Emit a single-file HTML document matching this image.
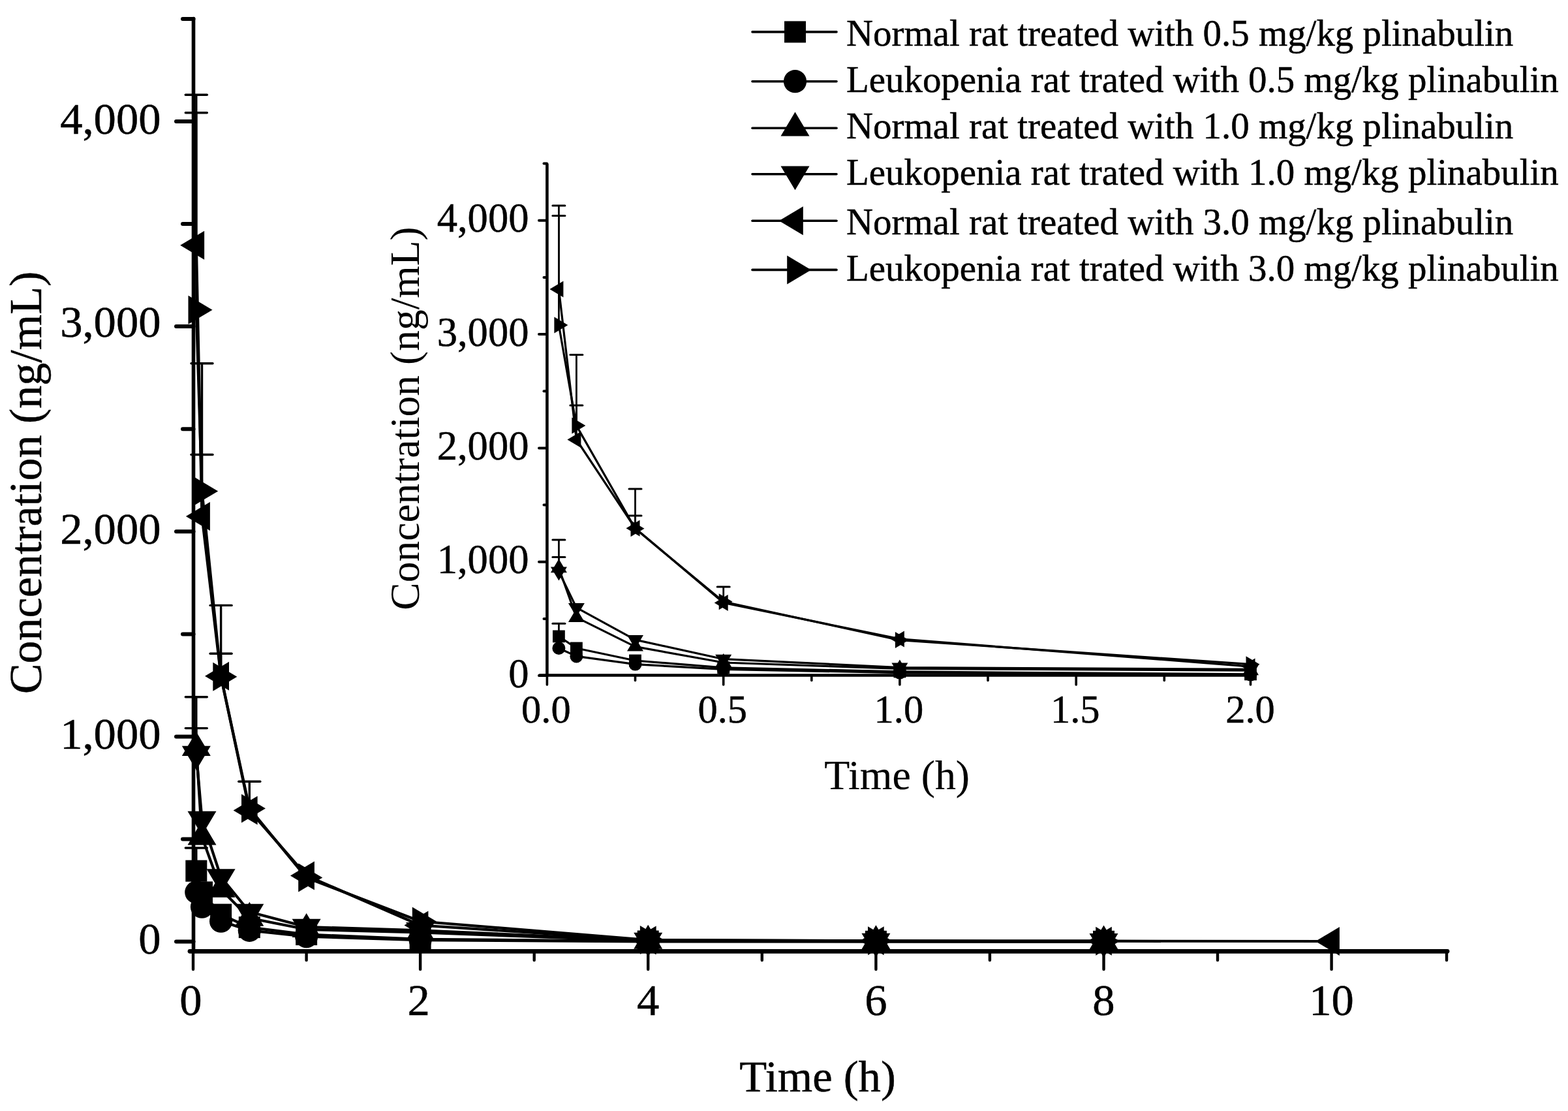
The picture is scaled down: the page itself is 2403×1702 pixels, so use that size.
<!DOCTYPE html><html><head><meta charset="utf-8"><title>Plinabulin concentration</title><style>html,body{margin:0;padding:0;background:#fff;}svg{display:block;}text{font-family:"Liberation Serif", "Times New Roman", serif;fill:#000;stroke:#000;stroke-width:0.5px;}</style></head><body>
<svg width="2403" height="1702" viewBox="0 0 2403 1702">
<rect width="2403" height="1702" fill="#fff"/>
<g id="main">
<polyline points="300.8,1334.2 309.5,1366.9 338.6,1401.1 382.3,1420.6 469.6,1431.6 644.1,1438.8 993.2,1442.0 1342.4,1442.3 1691.5,1442.3" fill="none" stroke="#000" stroke-width="4.2" stroke-linejoin="round"/>
<polyline points="300.8,1366.9 309.5,1389.2 338.6,1411.2 382.3,1425.3 469.6,1434.7 644.1,1440.1 993.2,1442.3 1342.4,1442.3 1691.5,1442.3" fill="none" stroke="#000" stroke-width="4.2" stroke-linejoin="round"/>
<polyline points="300.8,1145.7 309.5,1282.1 338.6,1362.5 382.3,1406.5 469.6,1423.8 644.1,1428.5 993.2,1441.3 1342.4,1442.0 1691.5,1442.3" fill="none" stroke="#000" stroke-width="4.2" stroke-linejoin="round"/>
<polyline points="300.8,1155.2 309.5,1255.1 338.6,1343.6 382.3,1397.0 469.6,1420.0 644.1,1425.3 993.2,1441.0 1342.4,1442.0 1691.5,1442.3" fill="none" stroke="#000" stroke-width="4.2" stroke-linejoin="round"/>
<polyline points="300.8,375.7 309.5,791.1 338.6,1035.8 382.3,1241.5 469.6,1341.4 644.1,1417.5 993.2,1440.4 1342.4,1441.3 1691.5,1441.7 2040.6,1442.0" fill="none" stroke="#000" stroke-width="4.2" stroke-linejoin="round"/>
<polyline points="300.8,474.7 309.5,752.4 338.6,1036.7 382.3,1238.4 469.6,1344.6 644.1,1411.5 993.2,1440.1 1342.4,1441.3 1691.5,1441.7" fill="none" stroke="#000" stroke-width="4.2" stroke-linejoin="round"/>
<line x1="300.8" y1="375.7" x2="300.8" y2="145.2" stroke="#000" stroke-width="3.4"/>
<line x1="284.3" y1="145.2" x2="317.3" y2="145.2" stroke="#000" stroke-width="3.4" stroke-linecap="round"/>
<line x1="300.8" y1="474.7" x2="300.8" y2="172.8" stroke="#000" stroke-width="3.4"/>
<line x1="284.3" y1="172.8" x2="317.3" y2="172.8" stroke="#000" stroke-width="3.4" stroke-linecap="round"/>
<line x1="300.8" y1="1145.7" x2="300.8" y2="1067.8" stroke="#000" stroke-width="3.4"/>
<line x1="284.3" y1="1067.8" x2="317.3" y2="1067.8" stroke="#000" stroke-width="3.4" stroke-linecap="round"/>
<line x1="300.8" y1="1155.2" x2="300.8" y2="1115.6" stroke="#000" stroke-width="3.4"/>
<line x1="284.3" y1="1115.6" x2="317.3" y2="1115.6" stroke="#000" stroke-width="3.4" stroke-linecap="round"/>
<line x1="300.8" y1="1334.2" x2="300.8" y2="1299.0" stroke="#000" stroke-width="3.4"/>
<line x1="284.3" y1="1299.0" x2="317.3" y2="1299.0" stroke="#000" stroke-width="3.4" stroke-linecap="round"/>
<line x1="309.5" y1="752.4" x2="309.5" y2="556.7" stroke="#000" stroke-width="3.4"/>
<line x1="293.0" y1="556.7" x2="326.0" y2="556.7" stroke="#000" stroke-width="3.4" stroke-linecap="round"/>
<line x1="309.5" y1="791.1" x2="309.5" y2="696.5" stroke="#000" stroke-width="3.4"/>
<line x1="293.0" y1="696.5" x2="326.0" y2="696.5" stroke="#000" stroke-width="3.4" stroke-linecap="round"/>
<line x1="338.6" y1="1036.7" x2="338.6" y2="927.4" stroke="#000" stroke-width="3.4"/>
<line x1="322.1" y1="927.4" x2="355.1" y2="927.4" stroke="#000" stroke-width="3.4" stroke-linecap="round"/>
<line x1="338.6" y1="1035.8" x2="338.6" y2="1001.2" stroke="#000" stroke-width="3.4"/>
<line x1="322.1" y1="1001.2" x2="355.1" y2="1001.2" stroke="#000" stroke-width="3.4" stroke-linecap="round"/>
<line x1="382.3" y1="1238.4" x2="382.3" y2="1197.2" stroke="#000" stroke-width="3.4"/>
<line x1="365.8" y1="1197.2" x2="398.8" y2="1197.2" stroke="#000" stroke-width="3.4" stroke-linecap="round"/>
<g fill="#000">
<rect x="284.3" y="1317.7" width="33.0" height="33.0"/>
<rect x="293.0" y="1350.4" width="33.0" height="33.0"/>
<rect x="322.1" y="1384.6" width="33.0" height="33.0"/>
<rect x="365.8" y="1404.1" width="33.0" height="33.0"/>
<rect x="453.1" y="1415.1" width="33.0" height="33.0"/>
<rect x="627.6" y="1422.3" width="33.0" height="33.0"/>
<rect x="976.7" y="1425.5" width="33.0" height="33.0"/>
<rect x="1325.9" y="1425.8" width="33.0" height="33.0"/>
<rect x="1675.0" y="1425.8" width="33.0" height="33.0"/>
<circle cx="300.8" cy="1366.9" r="17.6"/>
<circle cx="309.5" cy="1389.2" r="17.6"/>
<circle cx="338.6" cy="1411.2" r="17.6"/>
<circle cx="382.3" cy="1425.3" r="17.6"/>
<circle cx="469.6" cy="1434.7" r="17.6"/>
<circle cx="644.1" cy="1440.1" r="17.6"/>
<circle cx="993.2" cy="1442.3" r="17.6"/>
<circle cx="1342.4" cy="1442.3" r="17.6"/>
<circle cx="1691.5" cy="1442.3" r="17.6"/>
<polygon points="278.8,1158.0 322.8,1158.0 300.8,1121.1"/>
<polygon points="287.5,1294.4 331.5,1294.4 309.5,1257.4"/>
<polygon points="316.6,1374.8 360.6,1374.8 338.6,1337.9"/>
<polygon points="360.3,1418.8 404.3,1418.8 382.3,1381.8"/>
<polygon points="447.6,1436.1 491.6,1436.1 469.6,1399.1"/>
<polygon points="622.1,1440.8 666.1,1440.8 644.1,1403.8"/>
<polygon points="971.2,1453.7 1015.2,1453.7 993.2,1416.7"/>
<polygon points="1320.4,1454.3 1364.4,1454.3 1342.4,1417.3"/>
<polygon points="1669.5,1454.6 1713.5,1454.6 1691.5,1417.6"/>
<polygon points="278.8,1142.8 322.8,1142.8 300.8,1179.8"/>
<polygon points="287.5,1242.7 331.5,1242.7 309.5,1279.7"/>
<polygon points="316.6,1331.3 360.6,1331.3 338.6,1368.3"/>
<polygon points="360.3,1384.7 404.3,1384.7 382.3,1421.7"/>
<polygon points="447.6,1407.7 491.6,1407.7 469.6,1444.6"/>
<polygon points="622.1,1413.0 666.1,1413.0 644.1,1450.0"/>
<polygon points="971.2,1428.7 1015.2,1428.7 993.2,1465.7"/>
<polygon points="1320.4,1429.7 1364.4,1429.7 1342.4,1466.6"/>
<polygon points="1669.5,1430.0 1713.5,1430.0 1691.5,1466.9"/>
<polygon points="313.1,353.7 313.1,397.7 276.2,375.7"/>
<polygon points="321.9,769.1 321.9,813.1 284.9,791.1"/>
<polygon points="351.0,1013.8 351.0,1057.8 314.0,1035.8"/>
<polygon points="394.6,1219.5 394.6,1263.5 357.6,1241.5"/>
<polygon points="481.9,1319.4 481.9,1363.4 444.9,1341.4"/>
<polygon points="656.4,1395.5 656.4,1439.5 619.5,1417.5"/>
<polygon points="1005.6,1418.4 1005.6,1462.4 968.6,1440.4"/>
<polygon points="1354.7,1419.3 1354.7,1463.3 1317.7,1441.3"/>
<polygon points="1703.8,1419.7 1703.8,1463.7 1666.8,1441.7"/>
<polygon points="2052.9,1420.0 2052.9,1464.0 2016.0,1442.0"/>
<polygon points="288.5,452.7 288.5,496.7 325.5,474.7"/>
<polygon points="297.2,730.4 297.2,774.4 334.2,752.4"/>
<polygon points="326.3,1014.7 326.3,1058.7 363.3,1036.7"/>
<polygon points="370.0,1216.4 370.0,1260.4 406.9,1238.4"/>
<polygon points="457.2,1322.6 457.2,1366.6 494.2,1344.6"/>
<polygon points="631.8,1389.5 631.8,1433.5 668.8,1411.5"/>
<polygon points="980.9,1418.1 980.9,1462.1 1017.9,1440.1"/>
<polygon points="1330.0,1419.3 1330.0,1463.3 1367.0,1441.3"/>
<polygon points="1679.2,1419.7 1679.2,1463.7 1716.1,1441.7"/>
</g>
<g stroke="#000" stroke-linecap="round">
<line x1="296.5" y1="28.5" x2="296.5" y2="1457.3" stroke-width="5.6"/>
<line x1="291" y1="1457.3" x2="2218" y2="1457.3" stroke-width="6.8"/>
<line x1="270" y1="1442.6" x2="296.5" y2="1442.6" stroke-width="6"/>
<line x1="270" y1="1128.4" x2="296.5" y2="1128.4" stroke-width="6"/>
<line x1="270" y1="814.3" x2="296.5" y2="814.3" stroke-width="6"/>
<line x1="270" y1="500.1" x2="296.5" y2="500.1" stroke-width="6"/>
<line x1="270" y1="186.0" x2="296.5" y2="186.0" stroke-width="6"/>
<line x1="280" y1="1285.5" x2="296.5" y2="1285.5" stroke-width="6"/>
<line x1="280" y1="971.4" x2="296.5" y2="971.4" stroke-width="6"/>
<line x1="280" y1="657.2" x2="296.5" y2="657.2" stroke-width="6"/>
<line x1="280" y1="343.1" x2="296.5" y2="343.1" stroke-width="6"/>
<line x1="280" y1="28.9" x2="296.5" y2="28.9" stroke-width="6"/>
<line x1="296.0" y1="1457.3" x2="296.0" y2="1485" stroke-width="4.4"/>
<line x1="644.1" y1="1457.3" x2="644.1" y2="1485" stroke-width="4.4"/>
<line x1="993.2" y1="1457.3" x2="993.2" y2="1485" stroke-width="4.4"/>
<line x1="1342.4" y1="1457.3" x2="1342.4" y2="1485" stroke-width="4.4"/>
<line x1="1691.5" y1="1457.3" x2="1691.5" y2="1485" stroke-width="4.4"/>
<line x1="2040.6" y1="1457.3" x2="2040.6" y2="1485" stroke-width="4.4"/>
<line x1="469.6" y1="1457.3" x2="469.6" y2="1471" stroke-width="4.4"/>
<line x1="818.7" y1="1457.3" x2="818.7" y2="1471" stroke-width="4.4"/>
<line x1="1167.8" y1="1457.3" x2="1167.8" y2="1471" stroke-width="4.4"/>
<line x1="1516.9" y1="1457.3" x2="1516.9" y2="1471" stroke-width="4.4"/>
<line x1="1866.0" y1="1457.3" x2="1866.0" y2="1471" stroke-width="4.4"/>
<line x1="2217.0" y1="1457.3" x2="2217.0" y2="1471" stroke-width="4.4"/>
</g>
<text x="246.5" y="1461.4" font-size="68.6" text-anchor="end" >0</text>
<text x="246.5" y="1147.2" font-size="68.6" text-anchor="end" >1,000</text>
<text x="246.5" y="833.1" font-size="68.6" text-anchor="end" >2,000</text>
<text x="246.5" y="516.4" font-size="68.6" text-anchor="end" >3,000</text>
<text x="246.5" y="204.8" font-size="68.6" text-anchor="end" >4,000</text>
<text x="292.5" y="1555.0" font-size="68.6" text-anchor="middle" >0</text>
<text x="641.6" y="1555.0" font-size="68.6" text-anchor="middle" >2</text>
<text x="993.2" y="1555.0" font-size="68.6" text-anchor="middle" >4</text>
<text x="1342.4" y="1555.0" font-size="68.6" text-anchor="middle" >6</text>
<text x="1691.5" y="1555.0" font-size="68.6" text-anchor="middle" >8</text>
<text x="2040.6" y="1555.0" font-size="68.6" text-anchor="middle" >10</text>
<text x="1253.0" y="1671.6" font-size="68.6" text-anchor="middle" >Time (h)</text>
<text x="63" y="739.4" font-size="70" text-anchor="middle" transform="rotate(-90 63 739.4)">Concentration (ng/mL)</text>
</g>
<g id="inset">
<polyline points="856.4,974.9 883.4,993.0 973.5,1012.0 1108.7,1022.8 1378.9,1028.9 1916.5,1032.9" fill="none" stroke="#000" stroke-width="3.2" stroke-linejoin="round"/>
<polyline points="856.4,993.0 883.4,1005.4 973.5,1017.6 1108.7,1025.4 1378.9,1030.6 1916.5,1033.6" fill="none" stroke="#000" stroke-width="3.2" stroke-linejoin="round"/>
<polyline points="856.4,870.3 883.4,945.9 973.5,990.6 1108.7,1015.0 1378.9,1024.5 1916.5,1027.2" fill="none" stroke="#000" stroke-width="3.2" stroke-linejoin="round"/>
<polyline points="856.4,875.5 883.4,930.9 973.5,980.1 1108.7,1009.7 1378.9,1022.5 1916.5,1025.4" fill="none" stroke="#000" stroke-width="3.2" stroke-linejoin="round"/>
<polyline points="856.4,443.1 883.4,673.5 973.5,809.3 1108.7,923.4 1378.9,978.9 1916.5,1021.1" fill="none" stroke="#000" stroke-width="3.2" stroke-linejoin="round"/>
<polyline points="856.4,498.0 883.4,652.1 973.5,809.8 1108.7,921.7 1378.9,980.6 1916.5,1017.7" fill="none" stroke="#000" stroke-width="3.2" stroke-linejoin="round"/>
<line x1="856.4" y1="443.1" x2="856.4" y2="315.1" stroke="#000" stroke-width="2.8"/>
<line x1="846.9" y1="315.1" x2="865.9" y2="315.1" stroke="#000" stroke-width="3" stroke-linecap="round"/>
<line x1="856.4" y1="498.0" x2="856.4" y2="330.5" stroke="#000" stroke-width="2.8"/>
<line x1="846.9" y1="330.5" x2="865.9" y2="330.5" stroke="#000" stroke-width="3" stroke-linecap="round"/>
<line x1="856.4" y1="870.3" x2="856.4" y2="827.1" stroke="#000" stroke-width="2.8"/>
<line x1="846.9" y1="827.1" x2="865.9" y2="827.1" stroke="#000" stroke-width="3" stroke-linecap="round"/>
<line x1="856.4" y1="875.5" x2="856.4" y2="853.6" stroke="#000" stroke-width="2.8"/>
<line x1="846.9" y1="853.6" x2="865.9" y2="853.6" stroke="#000" stroke-width="3" stroke-linecap="round"/>
<line x1="856.4" y1="974.9" x2="856.4" y2="955.3" stroke="#000" stroke-width="2.8"/>
<line x1="846.9" y1="955.3" x2="865.9" y2="955.3" stroke="#000" stroke-width="3" stroke-linecap="round"/>
<line x1="883.4" y1="652.1" x2="883.4" y2="543.5" stroke="#000" stroke-width="2.8"/>
<line x1="873.9" y1="543.5" x2="892.9" y2="543.5" stroke="#000" stroke-width="3" stroke-linecap="round"/>
<line x1="883.4" y1="673.5" x2="883.4" y2="621.0" stroke="#000" stroke-width="2.8"/>
<line x1="873.9" y1="621.0" x2="892.9" y2="621.0" stroke="#000" stroke-width="3" stroke-linecap="round"/>
<line x1="973.5" y1="809.8" x2="973.5" y2="749.1" stroke="#000" stroke-width="2.8"/>
<line x1="964.0" y1="749.1" x2="983.0" y2="749.1" stroke="#000" stroke-width="3" stroke-linecap="round"/>
<line x1="973.5" y1="809.3" x2="973.5" y2="790.1" stroke="#000" stroke-width="2.8"/>
<line x1="964.0" y1="790.1" x2="983.0" y2="790.1" stroke="#000" stroke-width="3" stroke-linecap="round"/>
<line x1="1108.7" y1="921.7" x2="1108.7" y2="898.9" stroke="#000" stroke-width="2.8"/>
<line x1="1099.2" y1="898.9" x2="1118.2" y2="898.9" stroke="#000" stroke-width="3" stroke-linecap="round"/>
<g fill="#000">
<rect x="847.0" y="965.5" width="18.8" height="18.8"/>
<rect x="874.0" y="983.6" width="18.8" height="18.8"/>
<rect x="964.1" y="1002.6" width="18.8" height="18.8"/>
<rect x="1099.3" y="1013.4" width="18.8" height="18.8"/>
<rect x="1369.5" y="1019.5" width="18.8" height="18.8"/>
<rect x="1907.1" y="1023.5" width="18.8" height="18.8"/>
<circle cx="856.4" cy="993.0" r="10.0"/>
<circle cx="883.4" cy="1005.4" r="10.0"/>
<circle cx="973.5" cy="1017.6" r="10.0"/>
<circle cx="1108.7" cy="1025.4" r="10.0"/>
<circle cx="1378.9" cy="1030.6" r="10.0"/>
<circle cx="1916.5" cy="1033.6" r="10.0"/>
<polygon points="843.9,877.3 868.9,877.3 856.4,856.3"/>
<polygon points="870.9,952.9 895.9,952.9 883.4,931.9"/>
<polygon points="961.0,997.6 986.0,997.6 973.5,976.6"/>
<polygon points="1096.2,1022.0 1121.2,1022.0 1108.7,1001.0"/>
<polygon points="1366.4,1031.5 1391.4,1031.5 1378.9,1010.5"/>
<polygon points="1904.0,1034.2 1929.0,1034.2 1916.5,1013.2"/>
<polygon points="843.9,868.5 868.9,868.5 856.4,889.5"/>
<polygon points="870.9,923.9 895.9,923.9 883.4,944.9"/>
<polygon points="961.0,973.1 986.0,973.1 973.5,994.1"/>
<polygon points="1096.2,1002.7 1121.2,1002.7 1108.7,1023.7"/>
<polygon points="1366.4,1015.5 1391.4,1015.5 1378.9,1036.5"/>
<polygon points="1904.0,1018.4 1929.0,1018.4 1916.5,1039.4"/>
<polygon points="863.4,430.6 863.4,455.6 842.4,443.1"/>
<polygon points="890.4,661.0 890.4,686.0 869.4,673.5"/>
<polygon points="980.5,796.8 980.5,821.8 959.5,809.3"/>
<polygon points="1115.7,910.9 1115.7,935.9 1094.7,923.4"/>
<polygon points="1385.9,966.4 1385.9,991.4 1364.9,978.9"/>
<polygon points="1923.5,1008.6 1923.5,1033.6 1902.5,1021.1"/>
<polygon points="849.4,485.5 849.4,510.5 870.4,498.0"/>
<polygon points="876.4,639.6 876.4,664.6 897.4,652.1"/>
<polygon points="966.5,797.3 966.5,822.3 987.5,809.8"/>
<polygon points="1101.7,909.2 1101.7,934.2 1122.7,921.7"/>
<polygon points="1371.9,968.1 1371.9,993.1 1392.9,980.6"/>
<polygon points="1909.5,1005.2 1909.5,1030.2 1930.5,1017.7"/>
</g>
<g stroke="#000" stroke-linecap="round">
<line x1="838.4" y1="251.6" x2="838.4" y2="1035" stroke-width="4.6"/>
<line x1="827" y1="1034.5" x2="1916.5" y2="1034.5" stroke-width="4.4"/>
<line x1="826" y1="1035.0" x2="838" y2="1035.0" stroke-width="4"/>
<line x1="826" y1="860.7" x2="838" y2="860.7" stroke-width="4"/>
<line x1="826" y1="686.4" x2="838" y2="686.4" stroke-width="4"/>
<line x1="826" y1="512.1" x2="838" y2="512.1" stroke-width="4"/>
<line x1="826" y1="337.8" x2="838" y2="337.8" stroke-width="4"/>
<line x1="833.5" y1="947.9" x2="838" y2="947.9" stroke-width="4"/>
<line x1="833.5" y1="773.5" x2="838" y2="773.5" stroke-width="4"/>
<line x1="833.5" y1="599.2" x2="838" y2="599.2" stroke-width="4"/>
<line x1="833.5" y1="424.9" x2="838" y2="424.9" stroke-width="4"/>
<line x1="833.5" y1="250.6" x2="838" y2="250.6" stroke-width="4"/>
<line x1="838.4" y1="1034.5" x2="838.4" y2="1049" stroke-width="3.6"/>
<line x1="1108.7" y1="1034.5" x2="1108.7" y2="1049" stroke-width="3.6"/>
<line x1="1378.9" y1="1034.5" x2="1378.9" y2="1049" stroke-width="3.6"/>
<line x1="1649.2" y1="1034.5" x2="1649.2" y2="1049" stroke-width="3.6"/>
<line x1="1916.5" y1="1034.5" x2="1916.5" y2="1049" stroke-width="3.6"/>
<line x1="973.5" y1="1034.5" x2="973.5" y2="1042.5" stroke-width="3.6"/>
<line x1="1243.8" y1="1034.5" x2="1243.8" y2="1042.5" stroke-width="3.6"/>
<line x1="1514.0" y1="1034.5" x2="1514.0" y2="1042.5" stroke-width="3.6"/>
<line x1="1784.3" y1="1034.5" x2="1784.3" y2="1042.5" stroke-width="3.6"/>
</g>
<text x="810.5" y="1052.5" font-size="62.6" text-anchor="end" >0</text>
<text x="810.5" y="878.2" font-size="62.6" text-anchor="end" >1,000</text>
<text x="810.5" y="703.9" font-size="62.6" text-anchor="end" >2,000</text>
<text x="810.5" y="529.6" font-size="62.6" text-anchor="end" >3,000</text>
<text x="810.5" y="355.3" font-size="62.6" text-anchor="end" >4,000</text>
<text x="836.9" y="1106.6" font-size="60.5" text-anchor="middle" >0.0</text>
<text x="1107.2" y="1106.6" font-size="60.5" text-anchor="middle" >0.5</text>
<text x="1377.4" y="1106.6" font-size="60.5" text-anchor="middle" >1.0</text>
<text x="1647.7" y="1106.6" font-size="60.5" text-anchor="middle" >1.5</text>
<text x="1916.0" y="1106.6" font-size="60.5" text-anchor="middle" >2.0</text>
<text x="1374.7" y="1208.8" font-size="63.8" text-anchor="middle" style="stroke-width:0.2px">Time (h)</text>
<text x="642" y="641" font-size="63.5" text-anchor="middle" style="stroke-width:0" transform="rotate(-90 642 641)">Concentration (ng/mL)</text>
</g>
<g id="legend">
<line x1="1153" y1="48.9" x2="1282" y2="48.9" stroke="#000" stroke-width="3.6" stroke-linecap="round"/>
<g fill="#000"><rect x="1202.0" y="32.4" width="33.0" height="33.0"/></g>
<text x="1297.0" y="70.0" font-size="56.9" text-anchor="start" >Normal rat treated with 0.5 mg/kg plinabulin</text>
<line x1="1153" y1="124.7" x2="1282" y2="124.7" stroke="#000" stroke-width="3.6" stroke-linecap="round"/>
<g fill="#000"><circle cx="1218.5" cy="124.7" r="17.6"/></g>
<text x="1297.0" y="141.2" font-size="56.9" text-anchor="start" >Leukopenia rat trated with 0.5 mg/kg plinabulin</text>
<line x1="1153" y1="196.2" x2="1282" y2="196.2" stroke="#000" stroke-width="3.6" stroke-linecap="round"/>
<g fill="#000"><polygon points="1196.5,208.5 1240.5,208.5 1218.5,171.6"/></g>
<text x="1297.0" y="212.2" font-size="56.9" text-anchor="start" >Normal rat treated with 1.0 mg/kg plinabulin</text>
<line x1="1153" y1="266.7" x2="1282" y2="266.7" stroke="#000" stroke-width="3.6" stroke-linecap="round"/>
<g fill="#000"><polygon points="1196.5,254.4 1240.5,254.4 1218.5,291.3"/></g>
<text x="1297.0" y="283.0" font-size="56.9" text-anchor="start" >Leukopenia rat trated with 1.0 mg/kg plinabulin</text>
<line x1="1153" y1="338.3" x2="1282" y2="338.3" stroke="#000" stroke-width="3.6" stroke-linecap="round"/>
<g fill="#000"><polygon points="1230.8,316.3 1230.8,360.3 1193.9,338.3"/></g>
<text x="1297.0" y="358.9" font-size="56.9" text-anchor="start" >Normal rat treated with 3.0 mg/kg plinabulin</text>
<line x1="1153" y1="413.4" x2="1282" y2="413.4" stroke="#000" stroke-width="3.6" stroke-linecap="round"/>
<g fill="#000"><polygon points="1206.2,391.4 1206.2,435.4 1243.1,413.4"/></g>
<text x="1297.0" y="430.0" font-size="56.9" text-anchor="start" >Leukopenia rat trated with 3.0 mg/kg plinabulin</text>
</g>
</svg></body></html>
